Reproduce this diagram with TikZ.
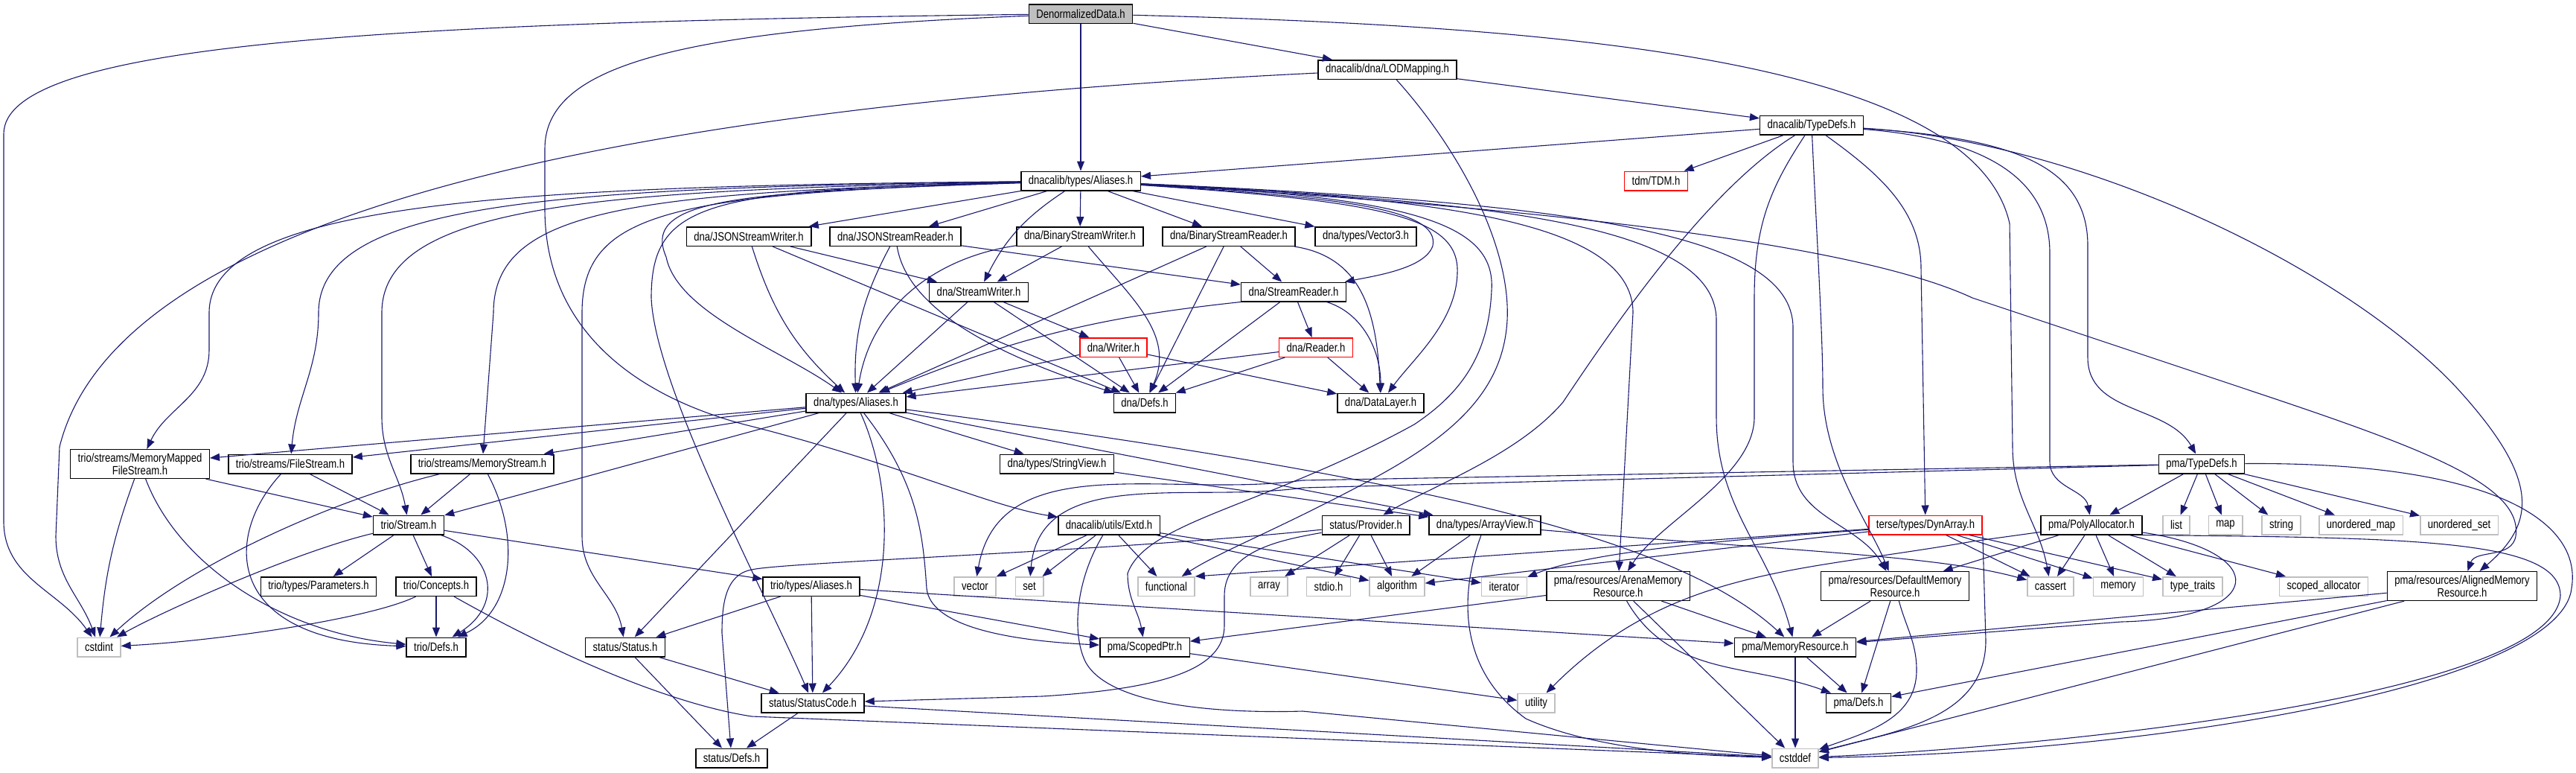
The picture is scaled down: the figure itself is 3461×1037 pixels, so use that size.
\documentclass[tikz,border=0pt]{standalone}
\usepackage{fontspec}
\newfontfamily\dotfont{Liberation Sans}[FakeStretch=0.81]
\usetikzlibrary{arrows.meta}
\definecolor{edgeblue}{HTML}{191970}
\definecolor{sysgray}{HTML}{BFBFBF}

\begin{document}
\begin{tikzpicture}[
	x=0.2mm, y=0.2mm,
	font=\dotfont\fontsize{9.2}{8.5}\selectfont,
	filebox/.style={draw=black, fill=white, line width=0.3mm, inner xsep=2mm, inner ysep=1mm, minimum height=5.1mm, align=center},
	sysbox/.style={filebox, draw=sysgray},
	missbox/.style={filebox, draw=red},
	rootbox/.style={filebox, fill=sysgray},
	arrow/.style={-{Triangle[length=2.6mm, width=2mm]}, line width=0.22mm, draw=edgeblue}
]
\useasboundingbox (0,0) rectangle (3461,-1037);

% Documented header and the dnacalib headers it pulls in.
\node[rootbox] (dd) at (1452,-18.5) {DenormalizedData.h};
\node[filebox] (lod) at (1864,-93.5) {dnacalib/dna/LODMapping.h};
\node[filebox] (tdefs) at (2434,-168) {dnacalib/TypeDefs.h};
\node[filebox] (als) at (1452,-243) {dnacalib/types/Aliases.h};
\node[missbox] (tdm) at (2225,-243) {tdm/TDM.h};

% dna stream headers.
\node[filebox] (jsw) at (1006,-317.5) {dna/JSONStreamWriter.h};
\node[filebox] (jsr) at (1203,-317.5) {dna/JSONStreamReader.h};
\node[filebox] (bsw) at (1451,-317.5) {dna/BinaryStreamWriter.h};
\node[filebox] (bsr) at (1651,-317.5) {dna/BinaryStreamReader.h};
\node[filebox] (vec3) at (1835,-317.5) {dna/types/Vector3.h};
\node[filebox] (sw) at (1315,-392) {dna/StreamWriter.h};
\node[filebox] (sr) at (1738,-392) {dna/StreamReader.h};
\node[missbox] (wr) at (1496,-466.5) {dna/Writer.h};
\node[missbox] (rd) at (1768,-466.5) {dna/Reader.h};
\node[filebox] (dals) at (1150,-541) {dna/types/Aliases.h};
\node[filebox] (ddefs) at (1538,-541) {dna/Defs.h};
\node[filebox] (dlay) at (1855,-541) {dna/DataLayer.h};

% trio, status, terse and pma headers.
\node[filebox] (mmfs) at (188,-623) {trio/streams/MemoryMapped\\FileStream.h};
\node[filebox] (fs) at (390,-623) {trio/streams/FileStream.h};
\node[filebox] (ms) at (648,-623) {trio/streams/MemoryStream.h};
\node[filebox] (sv) at (1420,-623) {dna/types/StringView.h};
\node[filebox] (ptdefs) at (2958,-623) {pma/TypeDefs.h};
\node[filebox] (stream) at (549,-705) {trio/Stream.h};
\node[filebox] (extd) at (1490,-705) {dnacalib/utils/Extd.h};
\node[filebox] (prov) at (1835,-705) {status/Provider.h};
\node[filebox] (av) at (1995,-705) {dna/types/ArrayView.h};
\node[missbox] (dyn) at (2587,-705) {terse/types/DynArray.h};
\node[filebox] (poly) at (2810,-705) {pma/PolyAllocator.h};
\node[filebox] (params) at (428,-787.5) {trio/types/Parameters.h};
\node[filebox] (concepts) at (586,-787.5) {trio/Concepts.h};
\node[filebox] (tals) at (1090,-787.5) {trio/types/Aliases.h};
\node[filebox] (arena) at (2174,-787) {pma/resources/ArenaMemory\\Resource.h};
\node[filebox] (dflt) at (2546,-787) {pma/resources/DefaultMemory\\Resource.h};
\node[filebox] (algn) at (3308,-787) {pma/resources/AlignedMemory\\Resource.h};
\node[filebox] (tdef) at (586,-869) {trio/Defs.h};
\node[filebox] (status) at (840,-869) {status/Status.h};
\node[filebox] (sptr) at (1538,-869) {pma/ScopedPtr.h};
\node[filebox] (memres) at (2412,-869) {pma/MemoryResource.h};
\node[filebox] (scode) at (1092,-944) {status/StatusCode.h};
\node[filebox] (pdefs) at (2497,-944) {pma/Defs.h};
\node[filebox] (sdefs) at (983,-1018) {status/Defs.h};

% Standard library headers.
\node[sysbox] (cstdint) at (133,-869) {cstdint};
\node[sysbox] (utility) at (2064,-944) {utility};
\node[sysbox] (cstddef) at (2412,-1018) {cstddef};
\foreach \name/\x/\txt in {list/2924/list, map/2990/map, string/3065/string, umap/3172/unordered\_map, uset/3304/unordered\_set}
	\node[sysbox] (\name) at (\x,-705) {\txt};
\foreach \name/\x/\txt in {vector/1310/vector, set/1383/set, functional/1567/functional, array/1705/array, stdio/1785/stdio.h, algorithm/1877/algorithm, iterator/2021/iterator, cassert/2755/cassert, memory/2846/memory, traits/2946/type\_traits, scoped/3122/scoped\_allocator}
	\node[sysbox] (\name) at (\x,-787.5) {\txt};

% DenormalizedData.h
\draw[arrow] (dd) -- (als);
\draw[arrow] (dd) -- (lod);
\draw[arrow] (dd) .. controls (500,-30) and (5,-60) .. (5,-180) -- (5,-700) to[out=-90,in=125] (cstdint);
\draw[arrow] (dd) .. controls (900,-40) and (732,-90) .. (732,-200) -- (732,-280) .. controls (732,-440) and (850,-530) .. (1000,-570) .. controls (1200,-620) and (1330,-680) .. (extd);
\draw[arrow] (dd) .. controls (2100,-35) and (2650,-80) .. (2700,-300) -- (2704,-600) to[out=-90,in=100] (cassert);

% LODMapping.h and TypeDefs.h
\draw[arrow] (lod) -- (tdefs);
\draw[arrow] (lod) .. controls (700,-150) and (150,-320) .. (80,-600) -- (75,-720) to[out=-90,in=110] (cstdint);
\draw[arrow] (lod) .. controls (1960,-200) and (2030,-330) .. (2025,-430) .. controls (2020,-520) and (1960,-580) .. (1850,-640) .. controls (1720,-710) and (1640,-740) .. (functional);
\draw[arrow] (tdefs) -- (als);
\draw[arrow] (tdefs) -- (tdm);
\draw[arrow] (tdefs) .. controls (2300,-250) and (2180,-420) .. (2100,-540) .. controls (2040,-610) and (1930,-650) .. (prov);
\draw[arrow] (tdefs) .. controls (2380,-250) and (2357,-300) .. (2357,-400) -- (2357,-560) .. controls (2357,-640) and (2230,-700) .. (arena);
\draw[arrow] (tdefs) .. controls (2440,-300) and (2449,-450) .. (2449,-520) .. controls (2449,-620) and (2510,-700) .. (dflt);
\draw[arrow] (tdefs) .. controls (2520,-230) and (2581,-280) .. (2581,-360) -- (dyn);
\draw[arrow] (tdefs) .. controls (2650,-185) and (2754,-230) .. (2754,-340) -- (2754,-620) to[out=-90,in=100] (poly);
\draw[arrow] (tdefs) .. controls (2700,-185) and (2805,-220) .. (2805,-330) -- (2805,-480) to[out=-90,in=120] (ptdefs);
\draw[arrow] (tdefs) .. controls (2800,-190) and (3150,-360) .. (3300,-520) .. controls (3410,-640) and (3410,-700) .. (algn);

% dnacalib/types/Aliases.h
\foreach \t in {jsw,jsr,bsw,bsr,vec3}
	\draw[arrow] (als) -- (\t);
\draw[arrow] (als) to[bend right=15] (sw);
\draw[arrow] (als) .. controls (1800,-265) and (1935,-280) .. (1925,-330) .. controls (1915,-360) and (1850,-370) .. (sr);
\draw[arrow] (als) .. controls (1850,-270) and (1955,-290) .. (1958,-360) .. controls (1960,-430) and (1900,-480) .. (dlay);
\draw[arrow] (als) .. controls (1900,-265) and (2010,-300) .. (2004,-390) .. controls (2000,-480) and (1960,-530) .. (1900,-570) .. controls (1700,-680) and (1540,-700) .. (1515,-770) to[out=-90,in=100] (sptr);
\draw[arrow] (als) .. controls (1900,-265) and (2194,-290) .. (2194,-420) -- (arena);
\draw[arrow] (als) .. controls (2000,-270) and (2306,-300) .. (2306,-430) -- (2306,-560) to[out=-90,in=105] (memres);
\draw[arrow] (als) .. controls (2100,-272) and (2409,-310) .. (2409,-440) -- (2409,-620) to[out=-90,in=120] (dflt);
\draw[arrow] (als) .. controls (2100,-280) and (2500,-330) .. (2650,-400) -- (3010,-520) .. controls (3250,-600) and (3390,-650) .. (3380,-720) to[out=-100,in=70] (algn);
\draw[arrow] (als) .. controls (1000,-258) and (860,-265) .. (895,-345) .. controls (910,-420) and (1050,-470) .. (dals);
\draw[arrow] (als) .. controls (700,-250) and (281,-270) .. (281,-420) -- (281,-470) to[out=-90,in=65] (mmfs);
\draw[arrow] (als) .. controls (750,-252) and (428,-270) .. (428,-420) to[out=-90,in=85] (fs);
\draw[arrow] (als) .. controls (800,-255) and (513,-275) .. (513,-420) -- (513,-560) to[out=-90,in=100] (stream);
\draw[arrow] (als) .. controls (850,-258) and (663,-280) .. (663,-420) -- (ms);
\draw[arrow] (als) .. controls (900,-260) and (782,-285) .. (782,-420) -- (782,-720) to[out=-90,in=100] (status);
\draw[arrow] (als) .. controls (950,-255) and (875,-270) .. (875,-400) .. controls (880,-520) and (1030,-800) .. (scode);

% dna readers and writers
\draw[arrow] (jsw) -- (sw);
\draw[arrow] (jsw) to[bend right=15] (dals);
\draw[arrow] (jsw) -- (ddefs);
\draw[arrow] (jsr) -- (sr);
\draw[arrow] (jsr) to[bend right=15] (dals);
\draw[arrow] (jsr) .. controls (1220,-420) and (1350,-480) .. (ddefs);
\draw[arrow] (bsw) -- (sw);
\draw[arrow] (bsw) .. controls (1260,-345) and (1170,-410) .. (dals);
\draw[arrow] (bsw) .. controls (1520,-400) and (1580,-450) .. (ddefs);
\draw[arrow] (bsr) -- (sr);
\draw[arrow] (bsr) -- (dals);
\draw[arrow] (bsr) -- (ddefs);
\draw[arrow] (bsr) .. controls (1830,-345) and (1850,-420) .. (dlay);
\draw[arrow] (sw) -- (dals);
\draw[arrow] (sw) -- (ddefs);
\draw[arrow] (sw) -- (wr);
\draw[arrow] (sr.south west) to[bend right=8] (dals);
\draw[arrow] (sr) -- (ddefs);
\draw[arrow] (sr) -- (rd);
\draw[arrow] (sr) .. controls (1830,-420) and (1855,-470) .. (dlay);
\foreach \s in {wr,rd}
	\foreach \t in {dals,ddefs,dlay}
		\draw[arrow] (\s) -- (\t);

% dna/types/Aliases.h
\foreach \t in {mmfs,fs,ms,stream,status,sv,av}
	\draw[arrow] (dals) -- (\t);
\draw[arrow] (dals) .. controls (1200,-650) and (1210,-820) .. (scode);
\draw[arrow] (dals) .. controls (1235,-650) and (1240,-720) .. (1245,-790) .. controls (1250,-840) and (1350,-860) .. (sptr);
\draw[arrow] (dals) .. controls (1900,-640) and (2250,-720) .. (memres);
\draw[arrow] (sv) -- (av);

% trio
\draw[arrow] (mmfs) -- (stream);
\draw[arrow] (mmfs) to[out=-110,in=85] (cstdint);
\draw[arrow] (mmfs) .. controls (240,-760) and (380,-850) .. (tdef);
\draw[arrow] (fs) -- (stream);
\draw[arrow] (fs) .. controls (300,-720) and (300,-860) .. (tdef);
\draw[arrow] (ms) -- (stream);
\draw[arrow] (ms) .. controls (450,-670) and (250,-760) .. (cstdint);
\draw[arrow] (ms) .. controls (700,-720) and (690,-820) .. (tdef);
\draw[arrow] (stream) .. controls (400,-740) and (220,-820) .. (cstdint);
\draw[arrow] (stream) -- (params);
\draw[arrow] (stream) -- (concepts);
\draw[arrow] (stream) .. controls (660,-740) and (680,-810) .. (tdef);
\draw[arrow] (stream) -- (tals);
\draw[arrow] (concepts) .. controls (500,-830) and (300,-860) .. (cstdint);
\draw[arrow] (concepts) -- (tdef);
\draw[arrow] (concepts) .. controls (750,-880) and (900,-945) .. (1010,-962) -- (cstddef);
\foreach \t in {sptr,memres,status,scode}
	\draw[arrow] (tals) -- (\t);

% status
\draw[arrow] (status) -- (scode);
\draw[arrow] (status) -- (sdefs);
\draw[arrow] (scode) -- (sdefs);
\draw[arrow] (scode) -- (cstddef);
\foreach \t in {array,stdio,algorithm}
	\draw[arrow] (prov) -- (\t);
\draw[arrow] (prov) .. controls (1720,-725) and (1645,-740) .. (1645,-800) -- (1645,-840) .. controls (1645,-900) and (1560,-925) .. (1400,-935) -- (scode);
\draw[arrow] (prov) .. controls (1500,-740) and (1050,-755) .. (1010,-765) to[out=190,in=90] (970,-850) -- (sdefs);

% Extd.h and ArrayView.h
\foreach \t in {vector,set,functional,algorithm,iterator}
	\draw[arrow] (extd) -- (\t);
\draw[arrow] (extd) .. controls (1445,-780) and (1440,-850) .. (1458,-888) .. controls (1490,-950) and (1650,-958) .. (1750,-955) -- (cstddef);
\draw[arrow] (av) -- (algorithm);
\draw[arrow] (av) .. controls (2400,-740) and (2600,-745) .. (cassert);
\draw[arrow] (av) .. controls (1960,-800) and (1960,-900) .. (2050,-965) .. controls (2150,-1010) and (2300,-1015) .. (cstddef);

% DynArray.h
\foreach \t in {cassert,memory,traits,algorithm}
	\draw[arrow] (dyn) -- (\t);
\draw[arrow] (dyn) -- (functional.north east);
\draw[arrow] (dyn) .. controls (2400,-720) and (2150,-735) .. (iterator);
\draw[arrow] (dyn.south east) -- (2668,-860) to[out=-90,in=15] (cstddef);

% PolyAllocator.h and pma/TypeDefs.h
\foreach \t in {cassert,memory,traits,scoped,dflt}
	\draw[arrow] (poly) -- (\t);
\draw[arrow] (poly) -- (2650,-727) to[out=190,in=45] (utility);
\draw[arrow] (poly) .. controls (3050,-740) and (3050,-830) .. (2850,-835) -- (memres);
\draw[arrow] (poly.south east) .. controls (3250,-722) and (3440,-725) .. (3440,-800) .. controls (3430,-930) and (2800,-1000) .. (cstddef);
\foreach \t in {poly,list,map,string,umap,uset}
	\draw[arrow] (ptdefs) -- (\t);
\draw[arrow] (ptdefs) -- (1750,-645) to[out=188,in=80] (vector);
\draw[arrow] (ptdefs) -- (1750,-655) to[out=188,in=85] (set);
\draw[arrow] (ptdefs) .. controls (3350,-620) and (3470,-700) .. (3455,-790) .. controls (3440,-920) and (2900,-1010) .. (cstddef);

% Memory resources.
\foreach \t in {memres,cstddef,sptr}
	\draw[arrow] (arena) -- (\t);
\draw[arrow] (arena) to[out=-60,in=160] (pdefs);
\foreach \t in {memres,pdefs}
	\draw[arrow] (dflt) -- (\t);
\draw[arrow] (dflt) to[out=-75,in=90] (2575,-900) to[out=-90,in=20] (cstddef);
\foreach \t in {memres,pdefs,cstddef}
	\draw[arrow] (algn) -- (\t);
\foreach \t in {pdefs,cstddef}
	\draw[arrow] (memres) -- (\t);
\draw[arrow] (sptr) -- (utility);

\end{tikzpicture}
\end{document}
